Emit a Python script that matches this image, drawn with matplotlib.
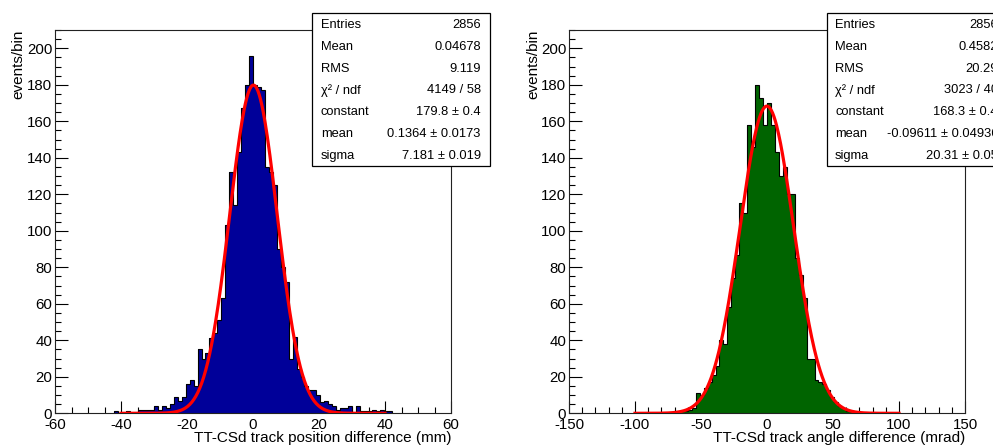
import numpy as np
import matplotlib
matplotlib.use("Agg")
import matplotlib.pyplot as plt
from matplotlib.ticker import MultipleLocator
from matplotlib.patches import Rectangle

plt.rcParams['font.family'] = ['Liberation Sans', 'DejaVu Sans']
plt.rcParams['axes.unicode_minus'] = False

# ---------------- data ----------------
# Left: track position difference (mm), bins of 1.2 mm starting at -42
left_bin_width = 1.2
left_first_edge = -42.0
left_counts = [1, 0, 0, 1, 0, 0, 2, 2, 2, 2,
               4, 2, 4, 3, 5, 9, 7, 9, 16, 18,
               15, 35, 30, 33, 41, 44, 51, 63, 103, 132,
               114, 143, 167, 180, 196, 180, 179, 177, 135, 132,
               125, 90, 80, 72, 30, 42, 24, 20, 15, 13,
               13, 10, 6, 7, 5, 4, 2, 3, 3, 4,
               0, 4, 1, 1, 1, 2, 1, 2, 1, 1]
left_xlim = (-60, 60)
left_fit = dict(constant=179.8, mean=0.1364, sigma=7.181, xmin=-40, xmax=40)
left_stats = [("Entries", "2856"), ("Mean", "0.04678"), ("RMS", "9.119"),
              ("\u03c7\u00b2 / ndf", "4149 / 58"), ("constant", "179.8 \u00b1 0.4"),
              ("mean", "0.1364 \u00b1 0.0173"), ("sigma", "7.181 \u00b1 0.019")]
left_xlabel = "TT-CSd track position difference (mm)"

# Right: track angle difference (mrad), bins of 3 mrad starting at -69
right_bin_width = 3.0
right_first_edge = -69.0
right_counts = [1, 1, 1, 2, 3, 11, 10, 14, 17, 21,
                26, 40, 38, 58, 74, 87, 115, 110, 158, 146,
                180, 173, 158, 170, 158, 143, 130, 135, 120, 120,
                85, 76, 63, 30, 30, 18, 17, 16, 13, 9,
                6, 4, 3, 1, 1]
right_xlim = (-150, 150)
right_fit = dict(constant=168.3, mean=-0.09611, sigma=20.31, xmin=-100, xmax=100)
right_stats = [("Entries", "2856"), ("Mean", "0.4582"), ("RMS", "20.29"),
               ("\u03c7\u00b2 / ndf", "3023 / 40"), ("constant", "168.3 \u00b1 0.4"),
               ("mean", "-0.09611 \u00b1 0.04936"), ("sigma", "20.31 \u00b1 0.05")]
right_xlabel = "TT-CSd track angle difference (mrad)"

ylim = (0, 210)
ylabel = "events/bin"

# ---------------- layout ----------------
W, H = 993, 446
fig = plt.figure(figsize=(W / 100, H / 100), dpi=100)


def rect(l, t, r, b):
    return [l / W, 1 - b / H, (r - l) / W, (b - t) / H]


def draw_panel(axrect, counts, first_edge, width, xlim, xmajor, xminor, color,
               fit, stats, box, label_x, value_x, xlabel, ylabel_x):
    ax = fig.add_axes(axrect)
    counts = np.asarray(counts, dtype=float)
    edges = first_edge + width * np.arange(len(counts) + 1)
    ax.stairs(counts, edges, fill=True, color=color, zorder=2)
    ax.stairs(counts, edges, fill=False, color='black', lw=0.8, zorder=3)
    xs = np.linspace(fit['xmin'], fit['xmax'], 400)
    ys = fit['constant'] * np.exp(-0.5 * ((xs - fit['mean']) / fit['sigma']) ** 2)
    ax.plot(xs, ys, color='#ff0000', lw=2.3, zorder=4, solid_joinstyle='round')
    ax.set_xlim(*xlim)
    ax.set_ylim(*ylim)
    ax.xaxis.set_major_locator(MultipleLocator(xmajor))
    ax.xaxis.set_minor_locator(MultipleLocator(xminor))
    ax.yaxis.set_major_locator(MultipleLocator(20))
    ax.yaxis.set_minor_locator(MultipleLocator(5))
    ax.tick_params(which='both', direction='in', top=False, right=False,
                   labelsize=10.8, color='black', width=0.8)
    ax.tick_params(axis='x', which='major', length=8.5, pad=3.5)
    ax.tick_params(axis='y', which='major', length=9, pad=2)
    ax.tick_params(which='minor', length=4.6)
    for s in ax.spines.values():
        s.set_linewidth(0.8)
        s.set_color('#222222')
    fig.text(axrect[0] + axrect[2], 1 - 438 / H, xlabel, ha='right', va='center',
             fontsize=11)
    fig.text(ylabel_x / W, 1 - 30 / H, ylabel, rotation=90, ha='center', va='top',
             fontsize=11)
    bl, bt, br, bb = box
    fig.patches.append(Rectangle((bl / W, 1 - bb / H), (br - bl) / W, (bb - bt) / H,
                                 transform=fig.transFigure, facecolor='white',
                                 edgecolor='black', lw=0.9, zorder=10))
    y0, dy = 25.0, 21.8
    for i, (lab, val) in enumerate(stats):
        y = 1 - (y0 + i * dy) / H
        fig.text(label_x / W, y, lab, ha='left', va='center', fontsize=9.3, zorder=11)
        fig.text(value_x / W, y, val, ha='right', va='center', fontsize=9.3, zorder=11)
    return ax


draw_panel(rect(55, 30, 451, 413.3), left_counts, left_first_edge, left_bin_width,
           left_xlim, 20, 5, '#000099', left_fit, left_stats,
           (312.3, 13.3, 490, 165.7), 320.7, 480.7, left_xlabel, 18)
draw_panel(rect(569, 30, 965, 413.3), right_counts, right_first_edge, right_bin_width,
           right_xlim, 50, 10, '#006400', right_fit, right_stats,
           (826.7, 13.3, 1010, 165.7), 835, 998, right_xlabel, 533)

fig.savefig("out.png", dpi=100)
